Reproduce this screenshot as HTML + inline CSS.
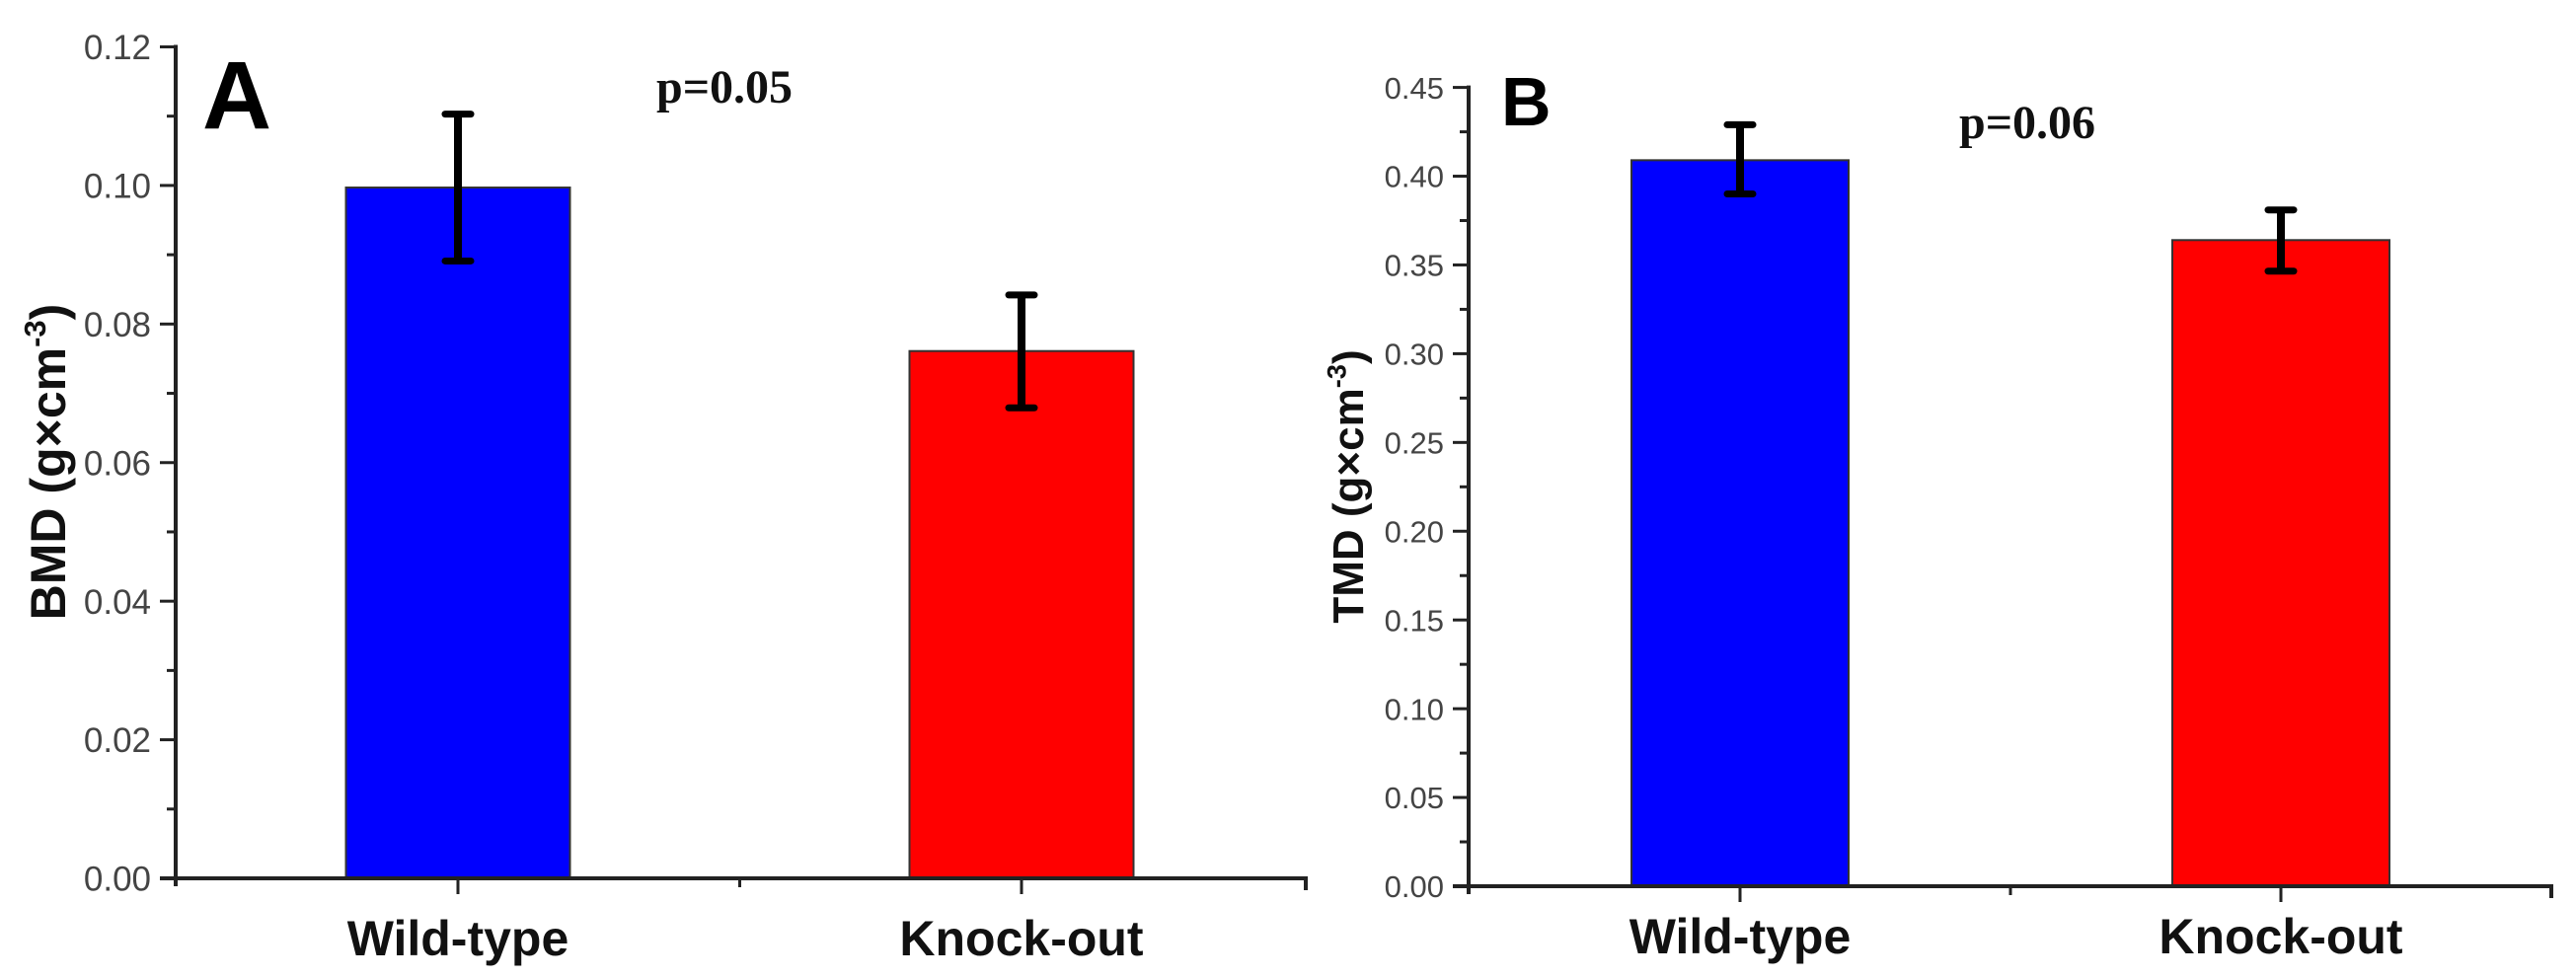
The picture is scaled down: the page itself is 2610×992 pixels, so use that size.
<!DOCTYPE html>
<html><head><meta charset="utf-8"><style>
html,body{margin:0;padding:0;background:#fff;}
svg{display:block;}
</style></head><body>
<svg id="chart" width="2610" height="992" viewBox="0 0 2610 992" xmlns="http://www.w3.org/2000/svg"></svg>
<script>
const categories = ["Wild-type", "Knock-out"];
const bmdValues = [0.0997, 0.0761];
const bmdErrHigh = [0.1103, 0.0842];
const bmdErrLow = [0.0891, 0.0679];
const bmdTicks = ["0.00","0.02","0.04","0.06","0.08","0.10","0.12"];
const tmdValues = [0.409, 0.364];
const tmdErrHigh = [0.429, 0.381];
const tmdErrLow = [0.390, 0.3465];
const tmdTicks = ["0.00","0.05","0.10","0.15","0.20","0.25","0.30","0.35","0.40","0.45"];
const colors = ["#0000ff", "#ff0000"];

const NS = "http://www.w3.org/2000/svg";
const svg = document.getElementById('chart');
function mk(tag, attrs, parent, text) {
  const e = document.createElementNS(NS, tag);
  for (const k in attrs) e.setAttribute(k, attrs[k]);
  if (text !== undefined) e.textContent = text;
  (parent || svg).appendChild(e);
  return e;
}

function panel(cfg) {
  const g = mk('g', {});
  
  
  const yMax = parseFloat(cfg.ticks[cfg.ticks.length - 1]);
  const y = v => cfg.y0 - (v / yMax) * (cfg.y0 - cfg.yTop);
  // minor ticks
  const step = parseFloat(cfg.ticks[1]);
  for (let i = 0; i < cfg.ticks.length - 1; i++) {
    const mv = step * (i + 0.5);
    const t = mk('line', {x1: cfg.ax - 9, x2: cfg.ax, y1: y(mv), y2: y(mv), stroke: '#222', 'stroke-width': 3}, g);
    
    
  }
  cfg.ticks.forEach(lbl => {
    const v = parseFloat(lbl);
    const t = mk('line', {x1: cfg.ax - 16, x2: cfg.ax, y1: y(v), y2: y(v), stroke: '#222', 'stroke-width': 3}, g);
    
    
    const tx = mk('text', {x: cfg.ax - 25, y: y(v) + cfg.tickFs * 0.36, 'text-anchor': 'end', 'font-family': 'Liberation Sans, sans-serif', 'font-size': cfg.tickFs, fill: '#444', transform: ''}, g, lbl);
    
    
  });
  // bars
  categories.forEach((c, i) => {
    const cx = cfg.centers[i];
    const top = y(cfg.values[i]);
    const b = mk('rect', {x: cx - cfg.barW / 2, y: top, width: cfg.barW, height: cfg.y0 - top, fill: colors[i], stroke: '#333', 'stroke-width': 2}, g);
    
    
    const eh = y(cfg.errHigh[i]), el = y(cfg.errLow[i]);
    const e = mk('line', {x1: cx, x2: cx, y1: eh, y2: el, stroke: '#000', 'stroke-width': 8}, g);
    
    
    [eh, el].forEach(yy => {
      const cap = mk('line', {x1: cx - 13, x2: cx + 13, y1: yy, y2: yy, stroke: '#000', 'stroke-width': 7, 'stroke-linecap': 'round'}, g);
      
      
    });
    const xt = mk('line', {x1: cx, x2: cx, y1: cfg.y0, y2: cfg.y0 + 16, stroke: '#222', 'stroke-width': 3}, g);
    
    
    const xl = mk('text', {x: cx, y: cfg.xLabelY, 'text-anchor': 'middle', 'font-family': 'Liberation Sans, sans-serif', 'font-weight': 'bold', 'font-size': 50, fill: '#111'}, g, c);
    
    
  });
  const mt = mk('line', {x1: (cfg.centers[0] + cfg.centers[1]) / 2, x2: (cfg.centers[0] + cfg.centers[1]) / 2, y1: cfg.y0, y2: cfg.y0 + 9, stroke: '#222', 'stroke-width': 3}, g);
  
  
  // axes
  const ya = mk('line', {x1: cfg.ax, x2: cfg.ax, y1: cfg.yTop - 2, y2: cfg.y0 + 8, stroke: '#222', 'stroke-width': 4}, g);
  
  
  const xa = mk('path', {d: `M${cfg.ax - 16},${cfg.y0} H${cfg.axEnd} v12`, fill: 'none', stroke: '#222', 'stroke-width': 4}, g);
  
  
  // y title
  const yt = mk('text', {x: 0, y: 0, 'text-anchor': 'middle', 'font-family': 'Liberation Sans, sans-serif', 'font-weight': 'bold', 'font-size': cfg.titleFs, fill: '#111', transform: `translate(${cfg.titleX},${cfg.titleY}) rotate(-90)`}, g);
  
  
  mk('tspan', {}, yt, cfg.title + ' (g×cm');
  mk('tspan', {dy: -cfg.titleFs * 0.4, 'font-size': cfg.titleFs * 0.62}, yt, '-3');
  mk('tspan', {dy: cfg.titleFs * 0.4}, yt, ')');
  const pl = mk('text', {x: cfg.letterX, y: cfg.letterY, 'font-family': 'Liberation Sans, sans-serif', 'font-weight': 'bold', 'font-size': cfg.letterFs, fill: '#000'}, g, cfg.letter);
  
  
  const pv = mk('text', {x: cfg.pX, y: cfg.pY, 'font-family': 'Liberation Serif, serif', 'font-weight': 'bold', 'font-size': 48, fill: '#111'}, g, cfg.pText);
  
  
}

panel({name: 'panel-a-bmd', ax: 178, y0: 890, yTop: 47.5, axEnd: 1323, ticks: bmdTicks, values: bmdValues, errHigh: bmdErrHigh, errLow: bmdErrLow,
  centers: [464, 1035], barW: 227, xLabelY: 968, tickFs: 35, title: 'BMD', titleFs: 50, titleX: 66, titleY: 468,
  letter: 'A', letterX: 205, letterY: 130, letterFs: 97, pText: 'p=0.05', pX: 665, pY: 104});
panel({name: 'panel-b-tmd', ax: 1488, y0: 898, yTop: 88.6, axEnd: 2585, ticks: tmdTicks, values: tmdValues, errHigh: tmdErrHigh, errLow: tmdErrLow,
  centers: [1763, 2311], barW: 220, xLabelY: 966, tickFs: 31, title: 'TMD', titleFs: 44, titleX: 1381, titleY: 493,
  letter: 'B', letterX: 1521, letterY: 127, letterFs: 70, pText: 'p=0.06', pX: 1985, pY: 140});
</script>
</body></html>
